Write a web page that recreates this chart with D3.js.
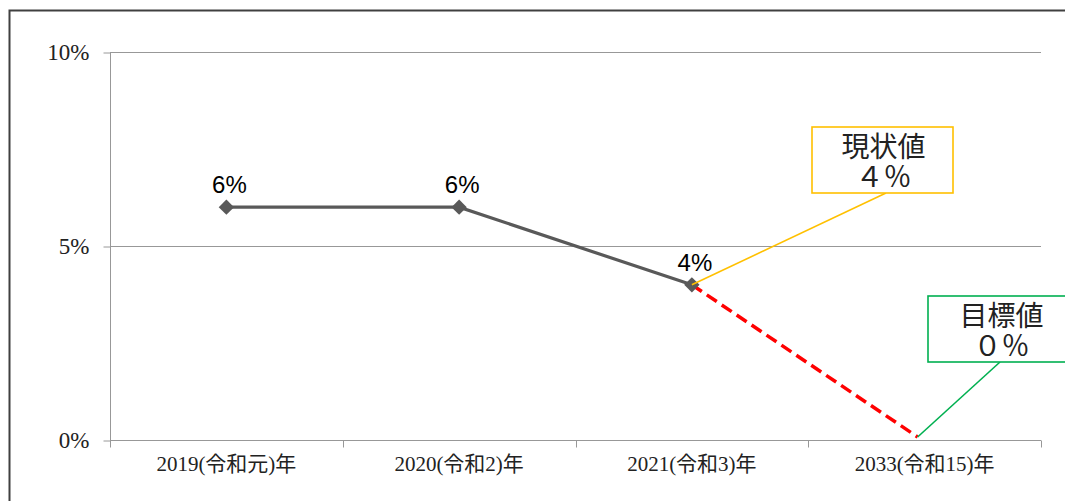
<!DOCTYPE html>
<html lang="ja">
<head>
    <meta charset="UTF-8">
    <title>現状値と目標値</title>
    <style>
        body { margin: 0; background: #fff; }
        .serif { font-family: "Liberation Serif", "DejaVu Serif", "Noto Sans CJK JP", serif; }
    </style>
</head>
<body>
    <script src="https://d3js.org/d3.v7.min.js"></script>
    <script>
        // データ
        var categories = ["2019(令和元)年", "2020(令和2)年", "2021(令和3)年", "2033(令和15)年"];
        var actual = [6, 6, 4];              // 実績 (%)
        var targetPath = [null, null, 4, 0]; // 目標への推移 (%)
        var yTicks = [0, 5, 10];
        var currentLabel = ["現状値", "４％"];
        var goalLabel = ["目標値", "０％"];

        var width = 1065, height = 501;
        var plotLeft = 110, plotRight = 1041, plotTop = 52, plotBottom = 440;

        var svg = d3.select("body").append("svg")
            .attr("width", width)
            .attr("height", height);

        // 外枠
        svg.append("rect")
            .attr("x", 9.5).attr("y", 10.5)
            .attr("width", 1070).attr("height", 520)
            .attr("fill", "none").attr("stroke", "#404040").attr("stroke-width", 2);

        var x = d3.scaleBand().domain(categories).range([plotLeft, plotRight]);
        var y = d3.scaleLinear().domain([0, 10]).range([plotBottom, plotTop]);
        var cx = function(i) { return x(categories[i]) + x.bandwidth() / 2; };

        // 目盛線
        svg.append("g").selectAll("line")
            .data(yTicks.filter(function(d) { return d > 0; }))
            .enter().append("line")
            .attr("x1", plotLeft).attr("x2", plotRight)
            .attr("y1", function(d) { return Math.round(y(d)) + 0.5; })
            .attr("y2", function(d) { return Math.round(y(d)) + 0.5; })
            .attr("stroke", "#989898").attr("stroke-width", 1.2);

        // Y軸
        var yAxis = svg.append("g")
            .attr("transform", "translate(" + (plotLeft + 0.5) + ",0.5)")
            .call(d3.axisLeft(y).tickValues(yTicks).tickSize(7).tickPadding(14)
                .tickFormat(function(d) { return d + "%"; }));
        yAxis.selectAll("line, path").attr("stroke", "#989898");
        yAxis.select(".domain").attr("d", "M0," + plotTop + "V" + plotBottom);
        yAxis.selectAll("text").attr("class", "serif")
            .style("font-size", "23px").attr("fill", "#222");

        // X軸
        var xAxis = svg.append("g")
            .attr("transform", "translate(0," + (plotBottom + 0.5) + ")")
            .call(d3.axisBottom(x).tickSize(0).tickPadding(16));
        xAxis.select(".domain").attr("d", "M" + plotLeft + ",0H" + plotRight).attr("stroke", "#989898");
        xAxis.selectAll("text").attr("class", "serif")
            .style("font-size", "21px").attr("fill", "#222");
        // 区切り目盛
        xAxis.append("g").selectAll("line")
            .data(d3.range(categories.length + 1))
            .enter().append("line")
            .attr("x1", function(i) { return Math.round(plotLeft + i * x.bandwidth()) + 0.5; })
            .attr("x2", function(i) { return Math.round(plotLeft + i * x.bandwidth()) + 0.5; })
            .attr("y1", 0).attr("y2", 7)
            .attr("stroke", "#989898");

        // 目標への破線 (終点は0%線上のやや左)
        var tgt = targetPath.map(function(v, i) { return { i: i, v: v }; })
            .filter(function(d) { return d.v !== null; });
        svg.append("path")
            .datum(tgt)
            .attr("d", d3.line()
                .x(function(d, k) { return k === 0 ? cx(d.i) : cx(d.i) - 7; })
                .y(function(d, k) { return k === 0 ? y(d.v) : y(d.v) - 3; }))
            .attr("fill", "none").attr("stroke", "#ff0000").attr("stroke-width", 3.5)
            .attr("stroke-dasharray", "12,6");

        // 実績線
        svg.append("path")
            .datum(actual)
            .attr("d", d3.line().x(function(d, i) { return cx(i); }).y(function(d) { return y(d); }))
            .attr("fill", "none").attr("stroke", "#595959").attr("stroke-width", 3.2);

        svg.append("g").selectAll("path")
            .data(actual)
            .enter().append("path")
            .attr("transform", function(d, i) { return "translate(" + cx(i) + "," + y(d) + ")"; })
            .attr("d", d3.symbol().type(d3.symbolDiamond2).size(150))
            .attr("fill", "#595959");

        // データラベル
        svg.append("g").selectAll("text")
            .data(actual)
            .enter().append("text")
            .attr("x", function(d, i) { return cx(i) + 3; })
            .attr("y", function(d) { return y(d) - 14; })
            .attr("text-anchor", "middle")
            .style("font-family", "'Liberation Sans', 'Open Sans', sans-serif")
            .style("font-size", "24px")
            .attr("fill", "#000")
            .text(function(d) { return d + "%"; });

        // 吹き出し
        function callout(lines, box, tipX, tipY, anchorX, color) {
            svg.append("line")
                .attr("x1", tipX).attr("y1", tipY)
                .attr("x2", anchorX).attr("y2", box.y + box.h)
                .attr("stroke", color).attr("stroke-width", 1.6);
            svg.append("rect")
                .attr("x", box.x).attr("y", box.y)
                .attr("width", box.w).attr("height", box.h)
                .attr("fill", "#fff").attr("stroke", color).attr("stroke-width", 1.6);
            svg.append("text")
                .attr("class", "serif")
                .attr("text-anchor", "middle")
                .style("font-size", "28px").attr("fill", "#222")
                .selectAll("tspan").data(lines).enter().append("tspan")
                .attr("x", box.x + box.w / 2 + 1)
                .attr("y", function(d, k) { return box.y + 30 + k * 30; })
                .text(function(d) { return d; });
        }

        callout(currentLabel, { x: 812, y: 127, w: 141, h: 66 },
            cx(2), y(actual[2]), 886, "#ffc000");
        callout(goalLabel, { x: 928, y: 296, w: 145, h: 66 },
            cx(3) - 7, y(0) - 3, 1000, "#00b050");
    </script>
</body>
</html>
